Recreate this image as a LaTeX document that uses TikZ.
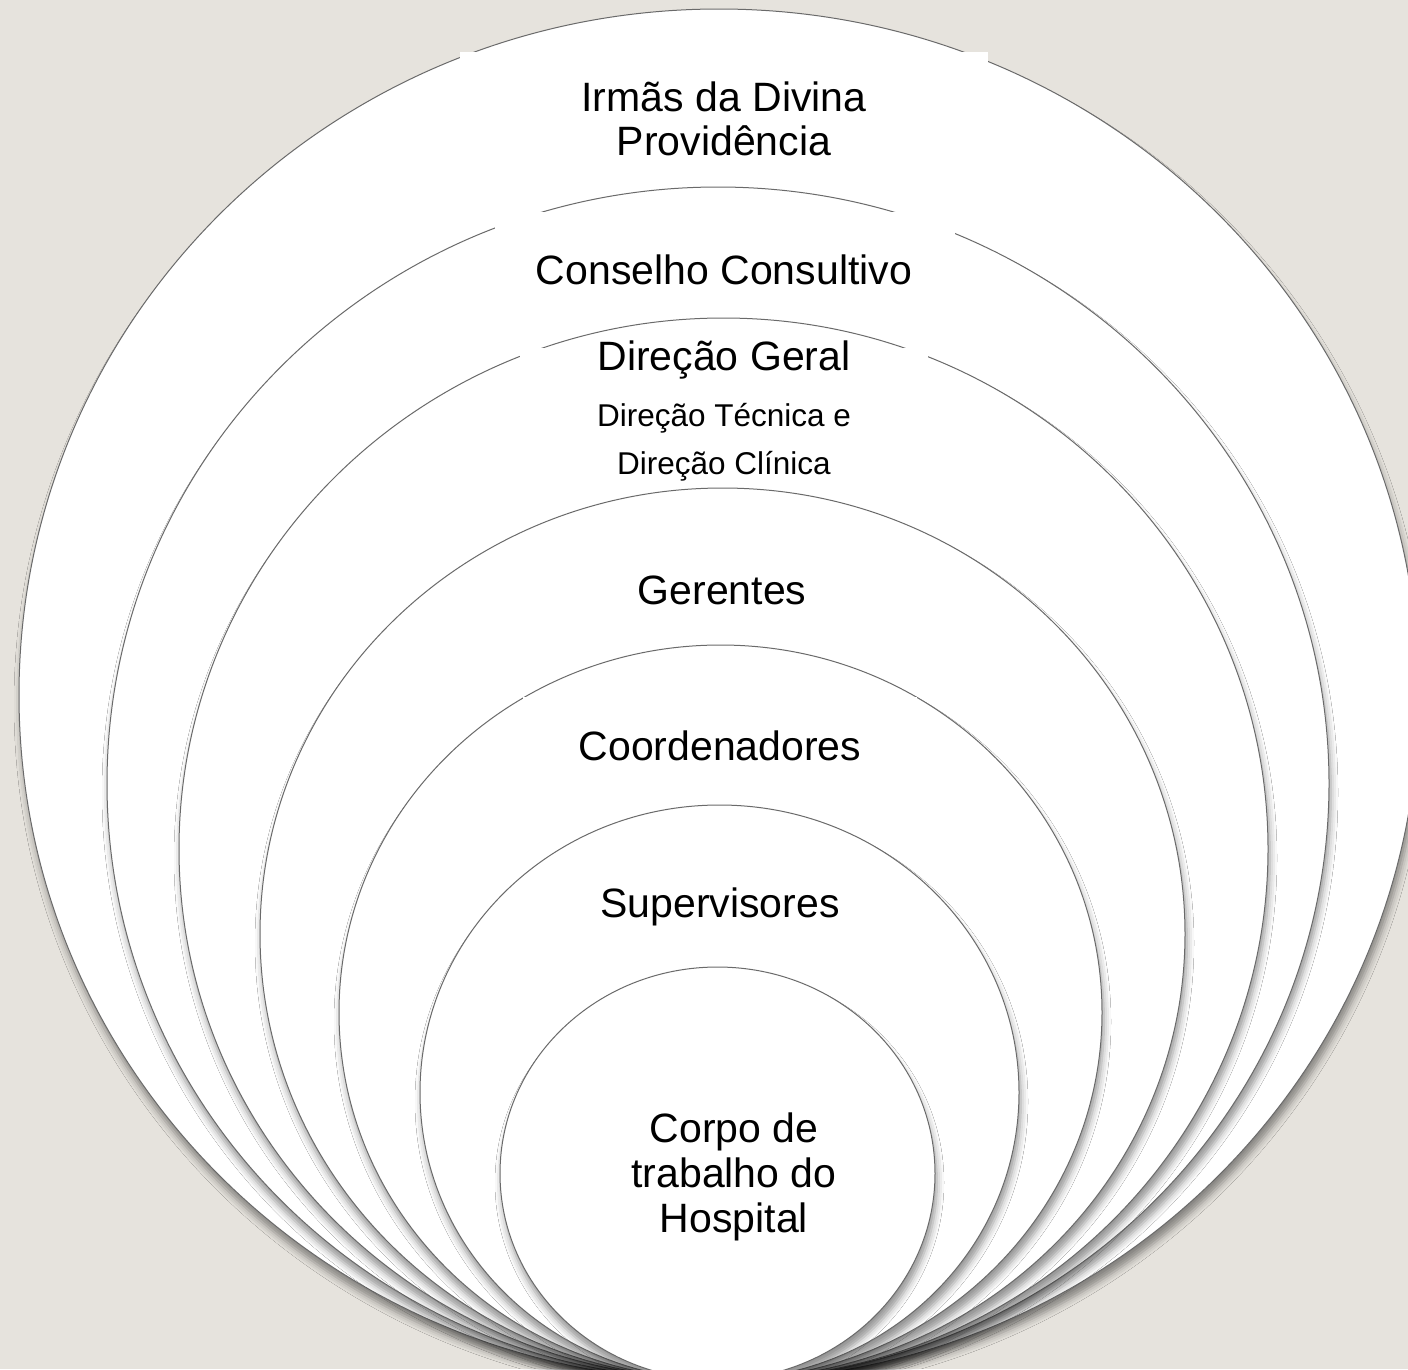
\documentclass[tikz,border=0pt]{standalone}
\usepackage{fontspec}
\setmainfont{Liberation Sans}
\usetikzlibrary{shapes.geometric,shadows.blur}
\definecolor{paper}{HTML}{E6E3DD}
\definecolor{rim}{HTML}{6A6A6A}
\tikzset{
  ring/.style={ellipse, draw=rim, line width=1pt, fill=white, inner sep=0pt,
    blur shadow={shadow xshift=2pt, shadow yshift=-9pt, shadow blur radius=7pt, shadow opacity=42}},
  mask/.style={fill=white, inner sep=0pt},
  lvltext/.style={font=\fontsize{41}{44}\selectfont, align=center},
  subtext/.style={font=\fontsize{31.5}{48}\selectfont, align=center},
}
\begin{document}
\begin{tikzpicture}[x=1pt,y=-1pt]
  \useasboundingbox (0,0) rectangle (1408,1369);
  \fill[paper] (0,0) rectangle (1408,1369);
  \clip (0,0) rectangle (1408,1369);
  % nested rings, outermost first
  \foreach \cx/\cy/\w/\h [count=\i] in {719/695/1400/1372, 718/783.5/1222/1193,
      723.5/849/1089/1062, 722.5/934/925/892, 720.5/1012.5/763/735,
      719.5/1092.5/599/575, 717.5/1173.5/435/413} {
    \node[ring, minimum width=\w pt, minimum height=\h pt] (ring\i) at (\cx,\cy) {};
  }
  % white label boxes over the rims
  \node[mask, minimum width=528pt, minimum height=134pt] (mask1) at (724,119) {};
  \node[mask, minimum width=460pt, minimum height=100pt] (mask2) at (725,262) {};
  \node[mask, minimum width=408pt, minimum height=132pt] (mask3) at (724,414) {};
  \node[mask, minimum width=394pt, minimum height=98pt] (mask5) at (720,746) {};
  % labels
  \node[lvltext] (irmas) at (724,119) {Irmãs da Divina\\Providência};
  \node[lvltext] (conselho) at (724,270) {Conselho Consultivo};
  \node[lvltext] (geral) at (724,360) {Direção Geral};
  \node[subtext] (tecnica) at (724,442) {Direção Técnica e\\Direção Clínica};
  \node[lvltext] (gerentes) at (722,590) {Gerentes};
  \node[lvltext] (coord) at (720,746) {Coordenadores};
  \node[lvltext] (superv) at (720,907) {Supervisores};
  \node[lvltext, font=\fontsize{41}{45}\selectfont] (corpo) at (734,1177) {Corpo de\\trabalho do\\Hospital};
\end{tikzpicture}
\end{document}
